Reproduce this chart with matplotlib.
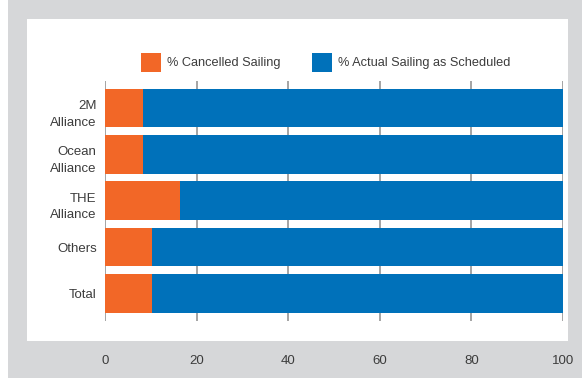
import matplotlib
matplotlib.use("Agg")
import matplotlib.pyplot as plt
from matplotlib.patches import Rectangle
from matplotlib.transforms import ScaledTranslation

categories = ["2M\nAlliance", "Ocean\nAlliance", "THE\nAlliance", "Others", "Total"]
cancelled = [8.4, 8.4, 16.4, 10.2, 10.3]
scheduled = [100 - v for v in cancelled]
xticks = [0, 20, 40, 60, 80, 100]
series_names = ["% Cancelled Sailing", "% Actual Sailing as Scheduled"]

ORANGE = "#f26727"
BLUE = "#0071ba"
GRAY_BG = "#d6d7d9"
TEXT = "#3c3c3c"
GRID = "#8c8c8c"

plt.rcParams['font.family'] = ['Liberation Sans', 'DejaVu Sans']

W, H = 582, 378
fig = plt.figure(figsize=(W / 100, H / 100), dpi=100)
fig.patch.set_facecolor(GRAY_BG)

# white strip at far left and white panel
fig.patches.append(Rectangle((0, 0), 8 / W, 1, transform=fig.transFigure,
                             facecolor="white", edgecolor="none", zorder=-2))
fig.patches.append(Rectangle((27 / W, 1 - 341 / H), (568 - 27) / W, (341 - 19) / H,
                             transform=fig.transFigure, facecolor="white",
                             edgecolor="none", zorder=-2))

left, right = 105 / W, 563 / W
top, bottom = 1 - 80.7 / H, 1 - 320.7 / H
ax = fig.add_axes([left, bottom, right - left, top - bottom])
ax.set_facecolor("none")
ax.set_zorder(1)

ypos = list(range(len(categories)))
b1 = ax.barh(ypos, cancelled, height=0.84, color=ORANGE, zorder=3, label=series_names[0])
b2 = ax.barh(ypos, scheduled, left=cancelled, height=0.84, color=BLUE, zorder=3,
             label=series_names[1])

ax.set_xlim(0, 100)
ax.set_ylim(len(categories) - 1 + 0.59, -0.59)

for v in xticks:
    ax.axvline(v, color=GRID, linewidth=1.1, zorder=1)

for s in ax.spines.values():
    s.set_visible(False)

ax.set_xticks([])
ax.set_yticks(ypos)
ax.set_yticklabels(categories, fontsize=9.5, color=TEXT, linespacing=1.5)
ax.tick_params(axis='y', length=0, pad=6)
for lab in ax.get_yticklabels():
    if "\n" in lab.get_text():
        lab.set_transform(lab.get_transform() +
                          ScaledTranslation(0, -2.5 / 100, fig.dpi_scale_trans))

for v in xticks:
    ax.text(v, (320.7 - 361.5) / 240, str(v), transform=ax.get_xaxis_transform(),
            ha="center", va="center", fontsize=9.5, color=TEXT)

leg = fig.legend(handles=[b1, b2], loc="upper left",
                 bbox_to_anchor=(141 / W, 1 - 54 / H), ncol=2, frameon=False,
                 fontsize=9.2, handlelength=1.55, handleheight=1.5,
                 handletextpad=0.45, columnspacing=2.5, borderpad=0,
                 borderaxespad=0)
for t in leg.get_texts():
    t.set_color(TEXT)
for h in leg.legend_handles:
    h.set_height(13.7)
    h.set_y(-4)

fig.savefig("out.png", dpi=100, facecolor=fig.get_facecolor())
